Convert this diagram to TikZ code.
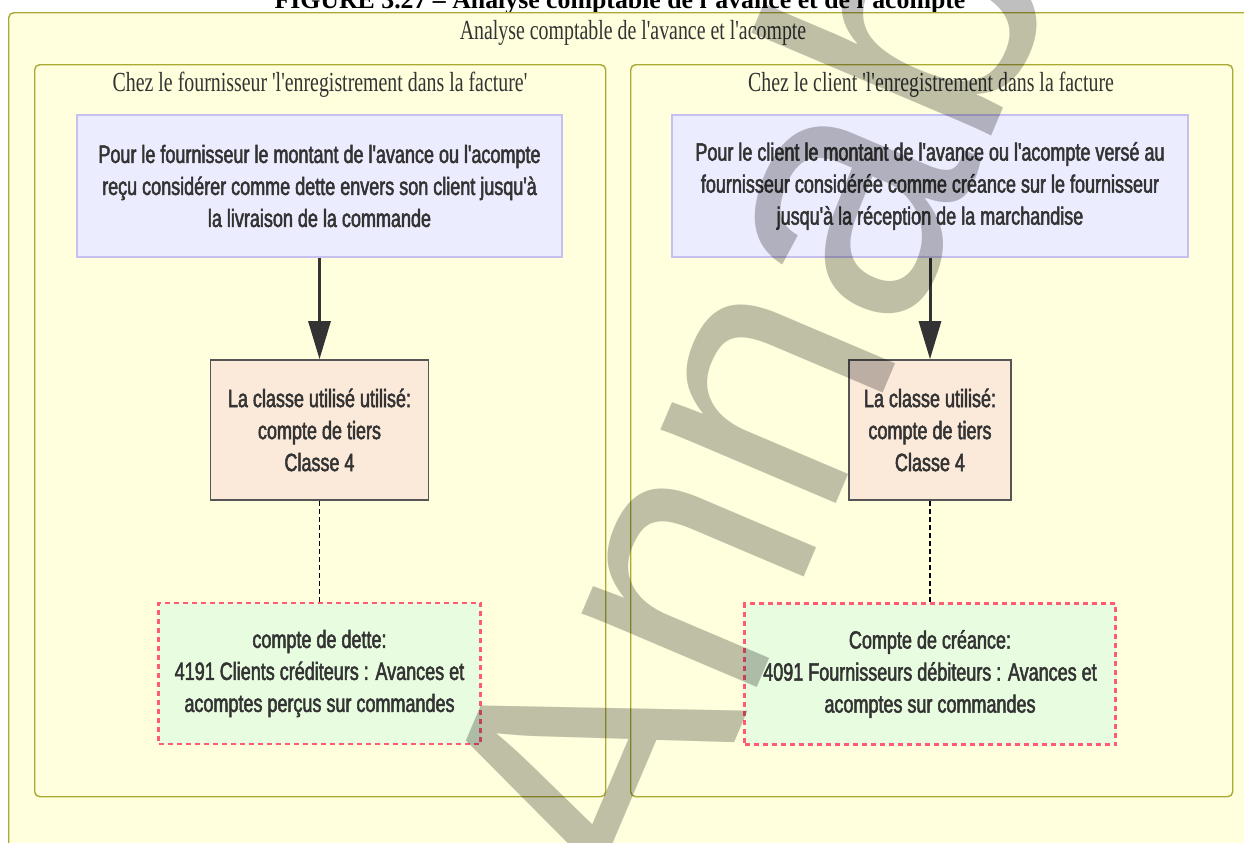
\documentclass[tikz,border=0pt]{standalone}
\usepackage{fontspec}
\setmainfont{Liberation Serif}
\newfontfamily\boxfont[FakeStretch=0.72,FakeBold=2]{Liberation Sans}
\newfontfamily\clusterfont[FakeStretch=0.72]{Liberation Serif}
\newfontfamily\markfont{Liberation Sans}
\usepackage{tikz}
\usetikzlibrary{arrows.meta,positioning}

\definecolor{clusterfill}{HTML}{FFFFDE}
\definecolor{clusterline}{HTML}{AAAA33}
\definecolor{notefill}{HTML}{ECECFF}
\definecolor{noteline}{HTML}{C6C0F0}
\definecolor{classfill}{HTML}{FBE9D9}
\definecolor{classline}{HTML}{555555}
\definecolor{accountfill}{HTML}{E8FCE0}
\definecolor{accountline}{HTML}{FF5A78}
\definecolor{textgray}{HTML}{333333}

\begin{document}
\begin{tikzpicture}[
  x=0.5pt, y=-0.5pt,
  cluster/.style={
    draw=clusterline,
    fill=clusterfill,
    line width=0.7pt,
    rounded corners=2.5pt,
    inner sep=0pt
  },
  clustertitle/.style={font=\clusterfont\fontsize{13.8}{16}\selectfont, text=textgray, inner sep=0pt},
  box/.style={
    align=center,
    font=\boxfont\fontsize{12.5}{16}\selectfont,
    text=textgray,
    inner sep=0pt
  },
  note/.style={box, fill=notefill, draw=noteline, line width=0.6pt, minimum height=71pt},
  classbox/.style={box, fill=classfill, draw=classline, line width=0.8pt, minimum height=70pt},
  account/.style={box, fill=accountfill, draw=accountline, line width=1.2pt,
    dash pattern=on 2.5pt off 2pt, minimum height=70.5pt},
  flow/.style={-{Triangle[length=19pt,width=11pt]}, line width=1.5pt, draw=textgray},
  link/.style={line width=0.8pt, dash pattern=on 2.5pt off 1.5pt},
  watermark/.style={font=\markfont\fontsize{180}{180}\selectfont, text=black,
    text opacity=0.25, inner sep=0pt}
]

\useasboundingbox (0,0) rectangle (1244,842);
\clip (0,0) rectangle (1244,842);
\fill[white] (0,0) rectangle (1244,842);

\node[font=\bfseries\fontsize{12.9}{15}\selectfont, anchor=base] (figtitle) at (620,8)
  {FIGURE 3.27 -- Analyse comptable de l'avance et de l'acompte};

\node[cluster, anchor=north west, minimum width=631pt, minimum height=429pt] (outer) at (8,12) {};
\node[clustertitle] (outertitle) at (633,33)
  {Analyse comptable de l'avance et l'acompte};

\node[cluster, anchor=north west, minimum width=285.5pt, minimum height=366pt] (fournisseur) at (34,64) {};
\node[clustertitle] (fournisseurtitle) at (320,85)
  {Chez le fournisseur 'l'enregistrement dans la facture'};

\node[cluster, anchor=north west, minimum width=301pt, minimum height=366pt] (client) at (630,64) {};
\node[clustertitle] (clienttitle) at (931,85)
  {Chez le client 'l'enregistrement dans la facture};

\node[note, minimum width=242.5pt] (fnote) at (319.5,186)
  {Pour le fournisseur le montant de l'avance ou l'acompte\\
   reçu considérer comme dette envers son client jusqu'à\\
   la livraison de la commande};
\node[classbox, minimum width=109pt] (fclass) at (319.5,430)
  {La classe utilisé utilisé:\\ compte de tiers\\ Classe 4};
\node[account, minimum width=161pt] (faccount) at (319.5,673.5)
  {compte de dette:\\ 4191 Clients créditeurs : Avances et\\ acomptes perçus sur commandes};

\node[note, minimum width=258pt] (cnote) at (930,186)
  {Pour le client le montant de l'avance ou l'acompte versé au\\
   fournisseur considérée comme créance sur le fournisseur\\
   jusqu'à la réception de la marchandise};
\node[classbox, minimum width=81pt] (cclass) at (930,430)
  {La classe utilisé:\\ compte de tiers\\ Classe 4};
\node[account, minimum width=185.5pt] (caccount) at (930,674)
  {Compte de créance:\\ 4091 Fournisseurs débiteurs : Avances et\\ acomptes sur commandes};

\draw[flow] (fnote) -- (fclass);
\draw[flow] (cnote) -- (cclass);
\draw[link] (fclass) -- (faccount);
\draw[link] (cclass) -- (caccount);

\node[watermark, rotate=67, anchor=base west] (mark) at (654,932) {Annabac};

\end{tikzpicture}
\end{document}
